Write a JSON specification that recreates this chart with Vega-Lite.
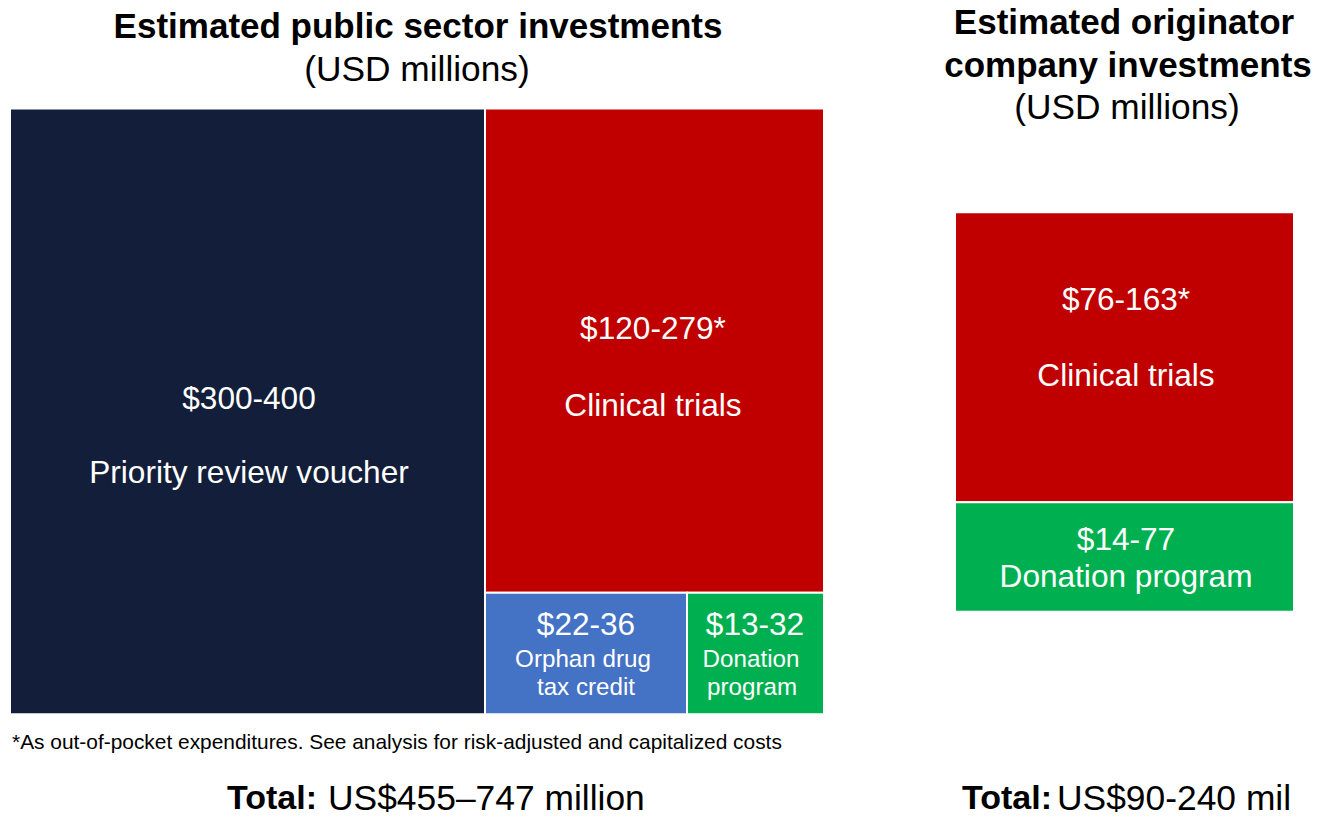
{
  "$schema": "https://vega.github.io/schema/vega-lite/v6.json",
  "width": 1327,
  "height": 818,
  "padding": 0,
  "autosize": {"type": "fit", "contains": "padding"},
  "background": "white",
  "config": {"view": {"stroke": null}, "font": "Liberation Sans"},
  "datasets": {
    "blocks": [
      {"panel": "Public sector", "category": "Priority review voucher", "range": "$300-400", "x0": 10, "x1": 485, "y0": 109, "y1": 717},
      {"panel": "Public sector", "category": "Clinical trials", "range": "$120-279*", "x0": 485, "x1": 824, "y0": 109, "y1": 595},
      {"panel": "Public sector", "category": "Orphan drug tax credit", "range": "$22-36", "x0": 485, "x1": 687, "y0": 595, "y1": 717},
      {"panel": "Public sector", "category": "Donation program", "range": "$13-32", "x0": 687, "x1": 824, "y0": 595, "y1": 717},
      {"panel": "Originator company", "category": "Clinical trials", "range": "$76-163*", "x0": 955, "x1": 1294, "y0": 213, "y1": 504},
      {"panel": "Originator company", "category": "Donation program", "range": "$14-77", "x0": 955, "x1": 1294, "y0": 504, "y1": 614}
    ],
    "labels": [
      {"role": "value", "text": "$300-400", "x": 249, "y": 401},
      {"role": "name", "text": "Priority review voucher", "x": 249, "y": 476},
      {"role": "value", "text": "$120-279*", "x": 653, "y": 331},
      {"role": "name", "text": "Clinical trials", "x": 653, "y": 408},
      {"role": "value", "text": "$22-36", "x": 586, "y": 628},
      {"role": "small", "text": "Orphan drug", "x": 583, "y": 662},
      {"role": "small", "text": "tax credit", "x": 586, "y": 691},
      {"role": "value", "text": "$13-32", "x": 755, "y": 628},
      {"role": "small", "text": "Donation", "x": 751, "y": 662},
      {"role": "small", "text": "program", "x": 752, "y": 691},
      {"role": "value", "text": "$76-163*", "x": 1126, "y": 302},
      {"role": "name", "text": "Clinical trials", "x": 1126, "y": 378},
      {"role": "value", "text": "$14-77", "x": 1126, "y": 543},
      {"role": "name", "text": "Donation program", "x": 1126, "y": 580}
    ],
    "titles": [
      {"role": "bold", "text": "Estimated public sector investments", "x": 418, "y": 27},
      {"role": "plain", "text": "(USD millions)", "x": 417, "y": 70},
      {"role": "bold", "text": "Estimated originator", "x": 1124, "y": 23},
      {"role": "bold", "text": "company investments", "x": 1128, "y": 66},
      {"role": "plain", "text": "(USD millions)", "x": 1127, "y": 108}
    ],
    "totals": [
      {"role": "bold", "text": "Total:", "x": 227, "y": 802},
      {"role": "plain", "text": "US$455–747 million", "x": 328, "y": 802},
      {"role": "bold", "text": "Total:", "x": 962, "y": 802},
      {"role": "plain", "text": "US$90-240 mil", "x": 1057, "y": 802}
    ],
    "notes": [
      {"text": "*As out-of-pocket expenditures. See analysis for risk-adjusted and capitalized costs", "x": 12, "y": 746}
    ]
  },
  "layer": [
    {
      "data": {"name": "blocks"},
      "mark": {"type": "rect", "stroke": "white", "strokeWidth": 2},
      "encoding": {
        "x": {"field": "x0", "type": "quantitative", "scale": {"domain": [0, 1327], "nice": false, "zero": false}, "axis": null},
        "x2": {"field": "x1"},
        "y": {"field": "y0", "type": "quantitative", "scale": {"domain": [0, 818], "nice": false, "zero": false, "reverse": true}, "axis": null},
        "y2": {"field": "y1"},
        "color": {"field": "category", "type": "nominal", "legend": null,
          "scale": {"domain": ["Priority review voucher", "Clinical trials", "Orphan drug tax credit", "Donation program"],
                    "range": ["#131F3A", "#C00000", "#4472C4", "#00B050"]}}
      }
    },
    {
      "data": {"name": "labels"},
      "transform": [{"filter": "datum.role === 'value' || datum.role === 'name'"}],
      "mark": {"type": "text", "color": "white", "fontSize": 31.6, "align": "center", "baseline": "middle"},
      "encoding": {
        "x": {"field": "x", "type": "quantitative"},
        "y": {"field": "y", "type": "quantitative"},
        "text": {"field": "text"}
      }
    },
    {
      "data": {"name": "labels"},
      "transform": [{"filter": "datum.role === 'small'"}],
      "mark": {"type": "text", "color": "white", "fontSize": 24.2, "align": "center", "baseline": "middle"},
      "encoding": {
        "x": {"field": "x", "type": "quantitative"},
        "y": {"field": "y", "type": "quantitative"},
        "text": {"field": "text"}
      }
    },
    {
      "data": {"name": "titles"},
      "transform": [{"filter": "datum.role === 'bold'"}],
      "mark": {"type": "text", "color": "black", "fontSize": 35, "fontWeight": "bold", "align": "center", "baseline": "middle"},
      "encoding": {
        "x": {"field": "x", "type": "quantitative"},
        "y": {"field": "y", "type": "quantitative"},
        "text": {"field": "text"}
      }
    },
    {
      "data": {"name": "titles"},
      "transform": [{"filter": "datum.role === 'plain'"}],
      "mark": {"type": "text", "color": "black", "fontSize": 35.3, "align": "center", "baseline": "middle"},
      "encoding": {
        "x": {"field": "x", "type": "quantitative"},
        "y": {"field": "y", "type": "quantitative"},
        "text": {"field": "text"}
      }
    },
    {
      "data": {"name": "totals"},
      "transform": [{"filter": "datum.role === 'bold'"}],
      "mark": {"type": "text", "color": "black", "fontSize": 34, "fontWeight": "bold", "align": "left", "baseline": "middle"},
      "encoding": {
        "x": {"field": "x", "type": "quantitative"},
        "y": {"field": "y", "type": "quantitative"},
        "text": {"field": "text"}
      }
    },
    {
      "data": {"name": "totals"},
      "transform": [{"filter": "datum.role === 'plain'"}],
      "mark": {"type": "text", "color": "black", "fontSize": 35.4, "align": "left", "baseline": "middle"},
      "encoding": {
        "x": {"field": "x", "type": "quantitative"},
        "y": {"field": "y", "type": "quantitative"},
        "text": {"field": "text"}
      }
    },
    {
      "data": {"name": "notes"},
      "mark": {"type": "text", "color": "black", "fontSize": 20.9, "align": "left", "baseline": "middle"},
      "encoding": {
        "x": {"field": "x", "type": "quantitative"},
        "y": {"field": "y", "type": "quantitative"},
        "text": {"field": "text"}
      }
    }
  ]
}
